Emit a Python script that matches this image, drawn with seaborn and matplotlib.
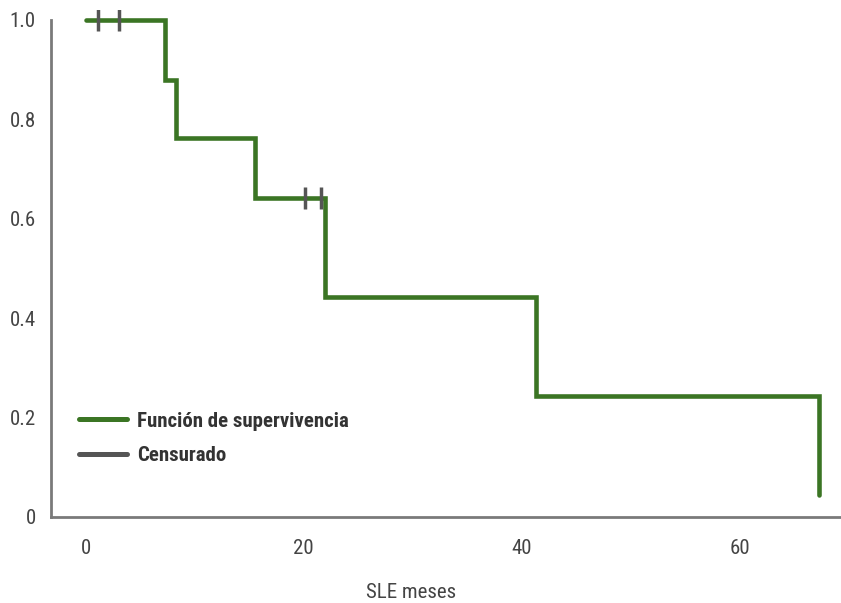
import matplotlib
matplotlib.use("Agg")
import matplotlib.pyplot as plt
from matplotlib.lines import Line2D
import seaborn as sns
import pandas as pd

# Kaplan-Meier step data (months, survival)
step_times = [0, 7.3, 8.3, 15.5, 21.9, 41.3, 67.3, 67.3]
step_surv = [1.0, 0.880, 0.762, 0.641, 0.442, 0.243, 0.243, 0.045]
censor_times = [1.1, 3.0, 20.1, 21.6]
censor_surv = [1.0, 1.0, 0.641, 0.641]

x_ticks = [0, 20, 40, 60]
y_ticks = [0, 0.2, 0.4, 0.6, 0.8, 1.0]
y_ticklabels = ["0", "0.2", "0.4", "0.6", "0.8", "1.0"]
legend_labels = ["Función de supervivencia", "Censurado"]
xlabel = "SLE meses"

green = "#3b7524"
grey = "#555555"
axis_grey = "#7a7a7a"
text_grey = "#444444"

sns.set_style("white")
plt.rcParams['font.family'] = ['Roboto Condensed', 'Liberation Sans Narrow',
                               'Liberation Sans', 'DejaVu Sans']

fig = plt.figure(figsize=(8.41, 6.03), dpi=100)
ax = fig.add_axes([51/841, 1-517/603, 790/841, 507/603])

steps = pd.DataFrame({"t": step_times, "s": step_surv})
cens = pd.DataFrame({"t": censor_times, "s": censor_surv})

sns.lineplot(data=steps, x="t", y="s", ax=ax, color=green, lw=3.3,
             drawstyle="steps-post", sort=False, estimator=None,
             solid_capstyle="round", solid_joinstyle="miter")
sns.scatterplot(data=cens, x="t", y="s", ax=ax, marker="|", s=260,
                color=grey, linewidth=2.5, zorder=5)

ax.set_xlim(-3.2, 69.3)
ax.set_ylim(0, 1.0 + 10/497)
ax.set_xticks(x_ticks)
ax.set_xticklabels([str(v) for v in x_ticks])
ax.set_yticks(y_ticks)
ax.set_yticklabels(y_ticklabels)

for side in ["top", "right"]:
    ax.spines[side].set_visible(False)
for side in ["left", "bottom"]:
    ax.spines[side].set_color(axis_grey)
    ax.spines[side].set_linewidth(2.0)
ax.spines["left"].set_bounds(0, 1.0)

ax.tick_params(axis="both", length=6, width=1.8, color=axis_grey,
               labelcolor=text_grey, labelsize=15, direction="out")
ax.tick_params(axis="x", pad=10)
ax.tick_params(axis="y", pad=5)

ax.set_xlabel(xlabel, fontsize=15, color=text_grey, labelpad=18)
ax.xaxis.set_label_coords(0.456, -0.131)
ax.set_ylabel("")

handles = [Line2D([], [], color=green, lw=3.6, solid_capstyle="round"),
           Line2D([], [], color=grey, lw=3.6, solid_capstyle="round")]
leg = ax.legend(handles, legend_labels, loc="upper left",
                bbox_to_anchor=(0.035, 0.208), frameon=False,
                prop={"weight": "bold", "size": 15},
                handlelength=2.3, handletextpad=0.5, labelspacing=0.74,
                borderpad=0, borderaxespad=0)
for t in leg.get_texts():
    t.set_color("#333333")

fig.savefig("out.png", dpi=100)
